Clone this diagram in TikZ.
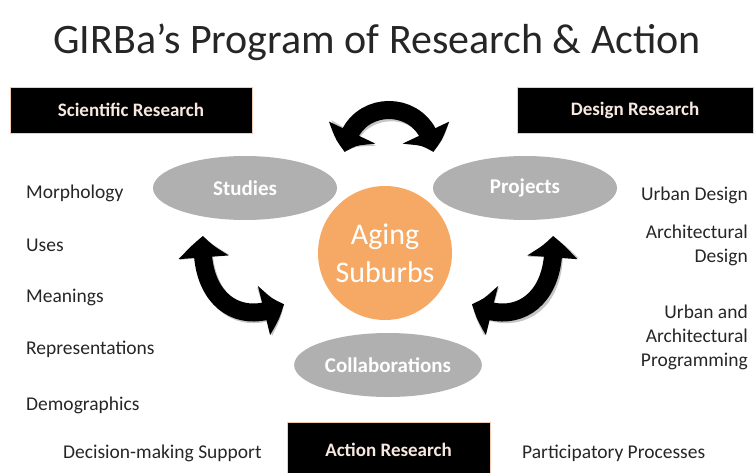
\documentclass[tikz,border=0pt]{standalone}
\usepackage{fontspec}
\setmainfont{Carlito}
\usetikzlibrary{arrows.meta,bending,shapes.geometric}
\definecolor{orangeclair}{HTML}{F6A965}
\definecolor{grisbulle}{HTML}{B0B0B0}
\definecolor{bordpeche}{HTML}{F2C9B1}
\definecolor{textepeche}{HTML}{F7E9E0}
\tikzset{
	boite/.style={draw=bordpeche, fill=black, text=textepeche, font=\fontsize{19}{21}\selectfont\bfseries, minimum height=46pt, inner sep=0pt},
	bulle/.style={ellipse, fill=grisbulle, text=white, font=\fontsize{21}{23}\selectfont\bfseries, minimum width=184pt, minimum height=64pt},
	liste/.style={font=\fontsize{19.5}{24}\selectfont, inner sep=0pt, text=black!85},
	fleche/.style={line width=18pt, {Triangle[width=48pt,length=22pt,bend]}-{Triangle[width=48pt,length=22pt,bend]}},
	ombre/.style={draw=gray!45, shift={(3,3)}},
}
\begin{document}
\begin{tikzpicture}[x=1pt,y=-1pt]
		\useasboundingbox (0,0) rectangle (754,473);
		% Titre
		\node[font=\fontsize{42}{46}\selectfont, text=black!85] (titre) at (377,42) {GIRBa's Program of Research \& Action};
		
		% Boites noires
		\node[boite, minimum width=242pt] (sci) at (131,110) {Scientific Research};
		\node[boite, minimum width=236pt] (design) at (635,110) {Design Research};
		\node[boite, minimum width=203pt, minimum height=56pt] (action) at (388.5,450) {Action Research};
		
		% Ellipses et cercle
		\node[bulle] (etudes) at (245,188) {Studies};
		\node[bulle] (projets) at (525,188) {Projects};
		\node[bulle] (collab) at (388,365) {Collaborations};
		\node[circle, fill=orangeclair, minimum size=134pt, text=white, align=center, font=\fontsize{30}{38}\selectfont] (banlieue) at (385,253) {Aging\\Suburbs};
		
		% Fleches
		\coordinate (hg) at (345,152);
		\coordinate (hd) at (433,152);
		\coordinate (gh) at (203,236);
		\coordinate (gb) at (284,304);
		\coordinate (dh) at (553,236);
		\coordinate (db) at (472,304);
		\draw[fleche, ombre] (hg) .. controls (350,96) and (428,96) .. (hd);
		\draw[fleche, ombre] (gh) .. controls (198,300) and (240,328) .. (gb);
		\draw[fleche, ombre] (dh) .. controls (558,300) and (516,328) .. (db);
		\draw[fleche] (hg) .. controls (350,96) and (428,96) .. (hd);
		\draw[fleche] (gh) .. controls (198,300) and (240,328) .. (gb);
		\draw[fleche] (dh) .. controls (558,300) and (516,328) .. (db);
		
		% Liste de gauche
		\node[liste, anchor=west] (morpho) at (26,193) {Morphology};
		\node[liste, anchor=west] (usages) at (26,245) {Uses};
		\node[liste, anchor=west] (sens) at (26,297) {Meanings};
		\node[liste, anchor=west] (repres) at (26,349) {Representations};
		\node[liste, anchor=west] (demo) at (26,405) {Demographics};
		\node[liste, anchor=west] (decision) at (63,453) {Decision-making Support};
		
		% Liste de droite
		\node[liste, anchor=east] (urbain) at (748,195) {Urban Design};
		\node[liste, anchor=east, align=right] (archi) at (748,245) {Architectural\\Design};
		\node[liste, anchor=east, align=right] (progr) at (748,337) {Urban and\\Architectural\\Programming};
		\node[liste, anchor=west] (particip) at (522,453) {Participatory Processes};
	\end{tikzpicture}
\end{document}
